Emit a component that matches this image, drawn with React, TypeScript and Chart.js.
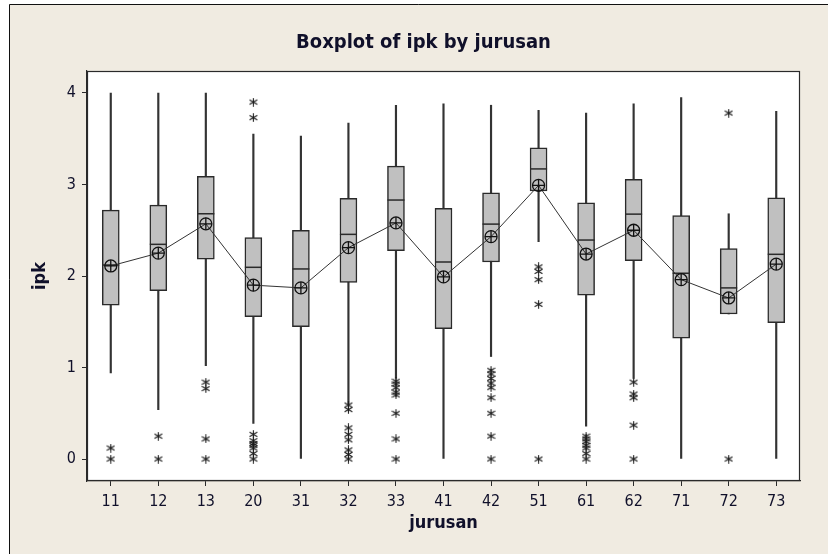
import React, { useEffect, useRef } from 'react';
import { Chart, registerables } from 'chart.js';
Chart.register(...registerables);

const categories = ['11', '12', '13', '20', '31', '32', '33', '41', '42', '51', '61', '62', '71', '72', '73'];
const whiskerLow = [0.94, 0.54, 1.02, 0.39, 0, 0.6, 0.88, 0, 1.12, 2.375, 0.36, 0.88, 0, 1.585, 0];
const q1 = [1.68, 1.84, 2.185, 1.556, 1.447, 1.93, 2.276, 1.425, 2.153, 2.93, 1.79, 2.167, 1.32, 1.585, 1.49];
const medians = [2.12, 2.346, 2.68, 2.095, 2.077, 2.455, 2.83, 2.153, 2.567, 3.17, 2.393, 2.676, 2.03, 1.87, 2.237];
const q3 = [2.72, 2.775, 3.09, 2.42, 2.5, 2.85, 3.2, 2.74, 2.91, 3.4, 2.8, 3.055, 2.66, 2.3, 2.855];
const whiskerHigh = [4.0, 4.0, 4.0, 3.55, 3.53, 3.67, 3.866, 3.88, 3.866, 3.81, 3.78, 3.88, 3.95, 2.68, 3.8];
const means = [2.11, 2.25, 2.57, 1.9, 1.87, 2.31, 2.58, 1.99, 2.43, 2.99, 2.24, 2.5, 1.96, 1.76, 2.13];
const outliers: number[][] = [
  [0.12, 0],
  [0.25, 0],
  [0.84, 0.77, 0.22, 0],
  [3.9, 3.73, 0.27, 0.2, 0.17, 0.15, 0.12, 0.06, 0],
  [],
  [0.59, 0.54, 0.34, 0.27, 0.21, 0.1, 0.05, 0],
  [0.85, 0.82, 0.78, 0.73, 0.7, 0.5, 0.22, 0],
  [],
  [0.97, 0.93, 0.88, 0.83, 0.78, 0.67, 0.5, 0.25, 0],
  [2.1, 2.05, 1.96, 1.69, 0],
  [0.25, 0.22, 0.19, 0.15, 0.12, 0.06, 0],
  [0.84, 0.71, 0.67, 0.37, 0],
  [],
  [3.78, 0],
  [],
];
const yTicks = [0, 1, 2, 3, 4];

const FONT = "'DejaVu Sans Condensed', 'DejaVu Sans', sans-serif";
const TEXT = '#10102a';
const DARK = '#2a2a2a';

function makeAsterisk(): HTMLCanvasElement {
  const c = document.createElement('canvas');
  c.width = 9;
  c.height = 9;
  const g = c.getContext('2d')!;
  g.strokeStyle = '#1a1a1a';
  g.lineWidth = 1.1;
  g.beginPath();
  g.moveTo(4.5, 0.3);
  g.lineTo(4.5, 8.7);
  g.moveTo(0.6, 2.2);
  g.lineTo(8.4, 6.8);
  g.moveTo(0.6, 6.8);
  g.lineTo(8.4, 2.2);
  g.stroke();
  return c;
}

const framePlugin = {
  id: 'frame',
  beforeDraw(chart: any) {
    const { ctx, width, height, chartArea } = chart;
    ctx.save();
    ctx.fillStyle = '#ffffff';
    ctx.fillRect(0, 0, width, height);
    ctx.fillStyle = '#f0ebe1';
    ctx.fillRect(9, 4, width - 9, height - 4);
    ctx.strokeStyle = '#111';
    ctx.lineWidth = 1;
    ctx.beginPath();
    ctx.moveTo(9.5, height);
    ctx.lineTo(9.5, 4.5);
    ctx.lineTo(width, 4.5);
    ctx.stroke();
    ctx.fillStyle = '#ffffff';
    ctx.fillRect(chartArea.left, chartArea.top, chartArea.right - chartArea.left, chartArea.bottom - chartArea.top);
    ctx.restore();
  },
  afterDraw(chart: any) {
    const { ctx, chartArea } = chart;
    ctx.save();
    ctx.strokeStyle = DARK;
    ctx.lineWidth = 1.2;
    ctx.strokeRect(chartArea.left + 0.5, chartArea.top + 0.5, chartArea.right - chartArea.left - 1, chartArea.bottom - chartArea.top - 1);
    ctx.restore();
  },
};

export default function App() {
  const ref = useRef<HTMLCanvasElement>(null);
  useEffect(() => {
    document.body.style.margin = '0';
    const canvas = ref.current!;
    const outlierPoints = categories.flatMap((c, i) => outliers[i].map((v) => ({ x: c, y: v })));
    const asterisk = makeAsterisk();
    const chart = new Chart(canvas, {
      type: 'bar',
      data: {
        labels: categories,
        datasets: [
          {
            type: 'bar',
            data: categories.map((_, i) => [whiskerLow[i], whiskerHigh[i]]),
            backgroundColor: '#333',
            borderWidth: 0,
            barThickness: 1.5,
            grouped: false,
            order: 6,
          } as any,
          {
            type: 'bar',
            data: categories.map((_, i) => [q1[i], q3[i]]),
            backgroundColor: '#c0c0c0',
            borderColor: DARK,
            borderWidth: 1.5,
            borderSkipped: false,
            barThickness: 17,
            grouped: false,
            order: 5,
          } as any,
          {
            type: 'line',
            data: medians,
            showLine: false,
            pointStyle: 'line',
            pointRadius: 8.5,
            pointBorderWidth: 1.5,
            pointBorderColor: DARK,
            order: 4,
          } as any,
          {
            type: 'line',
            data: means,
            borderColor: '#333',
            borderWidth: 1,
            pointStyle: 'circle',
            pointRadius: 6,
            pointBorderWidth: 1.3,
            pointBorderColor: '#111',
            pointBackgroundColor: 'rgba(0,0,0,0)',
            order: 3,
          } as any,
          {
            type: 'line',
            data: means,
            showLine: false,
            pointStyle: 'cross',
            pointRadius: 6,
            pointBorderWidth: 1.3,
            pointBorderColor: '#111',
            order: 2,
          } as any,
          {
            type: 'line',
            data: outlierPoints,
            showLine: false,
            pointStyle: asterisk,
            pointRadius: 4.5,
            order: 1,
          } as any,
        ],
      },
      options: {
        animation: false,
        responsive: false,
        devicePixelRatio: 1,
        layout: { padding: { left: 19, right: 0, top: 0, bottom: 0 } },
        plugins: {
          legend: { display: false },
          tooltip: { enabled: false },
          title: {
            display: true,
            text: 'Boxplot of ipk by jurusan',
            color: TEXT,
            font: { family: FONT, size: 20, weight: 'bold' },
            padding: { top: 31, bottom: 16 },
          },
        },
        scales: {
          x: {
            type: 'category',
            offset: true,
            grid: { display: true, drawOnChartArea: false, drawTicks: true, tickLength: 5, color: DARK, offset: false },
            border: { display: true, color: DARK, width: 1.2 },
            ticks: { color: TEXT, font: { family: FONT, size: 16 }, padding: 6, maxRotation: 0, autoSkip: false },
            title: {
              display: true,
              text: 'jurusan',
              color: TEXT,
              font: { family: FONT, size: 18, weight: 'bold' },
              padding: { top: 0, bottom: 20 },
            },
            afterFit: (scale: any) => {
              scale.height = 73;
            },
          },
          y: {
            type: 'linear',
            min: -0.24,
            max: 4.24,
            grid: { display: true, drawOnChartArea: false, drawTicks: true, tickLength: 5, color: DARK },
            border: { display: true, color: DARK, width: 1.2 },
            ticks: { color: TEXT, font: { family: FONT, size: 16 }, padding: 6 },
            afterBuildTicks: (scale: any) => {
              scale.ticks = yTicks.map((v) => ({ value: v }));
            },
            title: {
              display: true,
              text: 'ipk',
              color: TEXT,
              font: { family: FONT, size: 18, weight: 'bold' },
              padding: { top: 11, bottom: 0 },
            },
            afterFit: (scale: any) => {
              scale.width = 68;
            },
          },
          y2: {
            type: 'linear',
            position: 'right',
            display: true,
            grid: { display: false },
            border: { display: false },
            ticks: { display: false },
            afterFit: (scale: any) => {
              scale.width = 28;
            },
          },
        },
      },
      plugins: [framePlugin],
    } as any);
    return () => chart.destroy();
  }, []);
  return <canvas ref={ref} width={828} height={554} style={{ display: 'block', width: 828, height: 554 }} />;
}
